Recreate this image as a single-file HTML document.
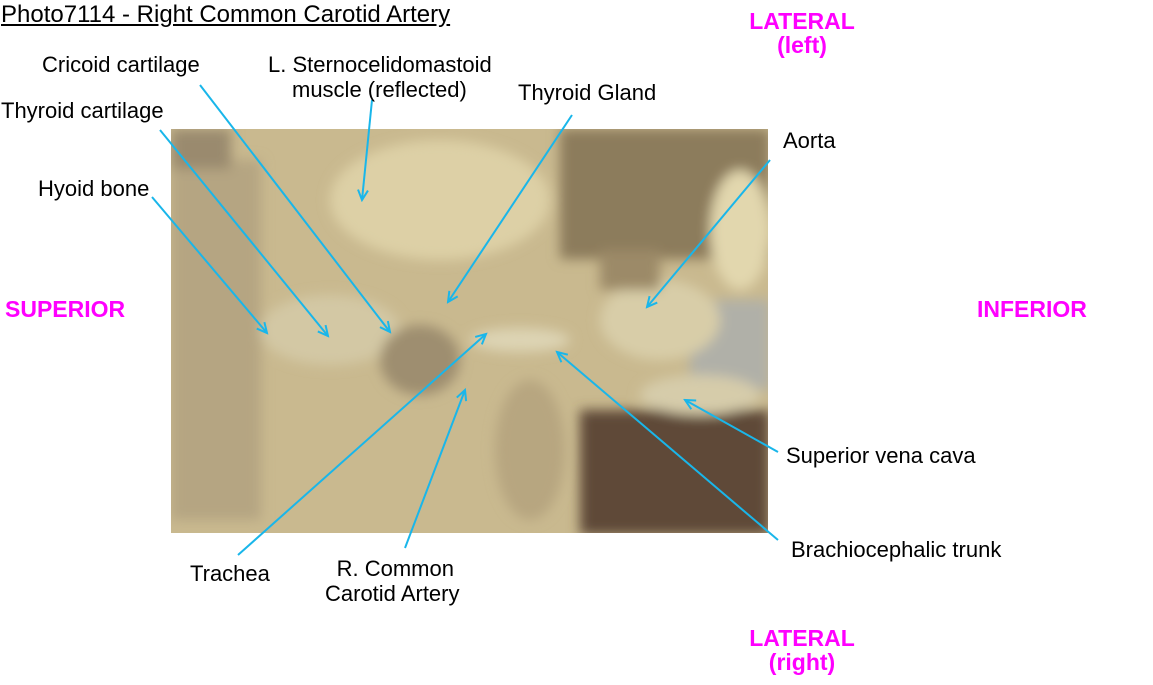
<!DOCTYPE html>
<html><head><meta charset="utf-8"><style>
body{margin:0;width:1153px;height:685px;background:#fff;position:relative;overflow:hidden;font-family:"Liberation Sans",Arial,sans-serif;}
.t{position:absolute;font-size:22px;color:#000;white-space:nowrap;line-height:25px}
.m{position:absolute;font-size:23px;color:#f0f;font-weight:bold;text-align:center;line-height:24px;white-space:nowrap}
</style></head><body>
<svg width="1153" height="685" style="position:absolute;left:0;top:0">
<defs>
<marker id="a" markerWidth="14" markerHeight="14" refX="12" refY="7" orient="auto" markerUnits="userSpaceOnUse">
<polyline points="2,2 12,7 2,12" fill="none" stroke="#19b6ea" stroke-width="2"/></marker>
<filter id="b"><feGaussianBlur stdDeviation="6"/></filter>
<clipPath id="c"><rect x="171" y="129" width="597" height="404"/></clipPath>
</defs>
<g clip-path="url(#c)">
<rect x="171" y="129" width="597" height="404" fill="#c9b98f"/>
<g filter="url(#b)">
<rect x="560" y="129" width="210" height="130" fill="#8c7c5c"/>
<rect x="580" y="410" width="190" height="125" fill="#5e4a38"/>
<rect x="171" y="160" width="90" height="360" fill="#b5a582"/>
<rect x="171" y="129" width="60" height="40" fill="#9a8a6e"/>
<rect x="690" y="300" width="80" height="90" fill="#b0b0a8"/>
<ellipse cx="440" cy="200" rx="110" ry="60" fill="#ddd0a6"/>
<ellipse cx="660" cy="320" rx="60" ry="40" fill="#d8cda8"/>
<ellipse cx="740" cy="230" rx="30" ry="60" fill="#e2d7ae"/>
<ellipse cx="330" cy="330" rx="70" ry="35" fill="#d3c8a4"/>
<ellipse cx="420" cy="360" rx="40" ry="35" fill="#9e8e70"/>
<ellipse cx="530" cy="450" rx="35" ry="70" fill="#b7a680"/>
<ellipse cx="700" cy="395" rx="60" ry="20" fill="#d6ccaa"/>
<rect x="600" y="250" width="60" height="40" fill="#9c8a68"/>
<ellipse cx="520" cy="340" rx="50" ry="12" fill="#ddd4b4"/>
</g>
</g>
<g stroke="#19b6ea" stroke-width="2" fill="none" marker-end="url(#a)">
<line x1="200" y1="85" x2="390" y2="332"/>
<line x1="372" y1="100" x2="362" y2="200"/>
<line x1="160" y1="130" x2="328" y2="336"/>
<line x1="152" y1="197" x2="267" y2="333"/>
<line x1="572" y1="115" x2="448" y2="302"/>
<line x1="770" y1="160" x2="647" y2="307"/>
<line x1="778" y1="452" x2="685" y2="400"/>
<line x1="778" y1="540" x2="557" y2="352"/>
<line x1="238" y1="555" x2="486" y2="334"/>
<line x1="405" y1="548" x2="465" y2="390"/>
</g>
</svg>
<div class="t" style="left:1px;top:2px;font-size:24px;text-decoration:underline">Photo7114 - Right Common Carotid Artery</div>
<div class="t" style="left:42px;top:52px">Cricoid cartilage</div>
<div class="t" style="left:268px;top:52px">L. Sternocelidomastoid<br><span style="padding-left:24px">muscle (reflected)</span></div>
<div class="t" style="left:1px;top:98px">Thyroid cartilage</div>
<div class="t" style="left:518px;top:80px">Thyroid Gland</div>
<div class="t" style="left:783px;top:128px">Aorta</div>
<div class="t" style="left:38px;top:176px">Hyoid bone</div>
<div class="t" style="left:786px;top:443px">Superior vena cava</div>
<div class="t" style="left:791px;top:537px">Brachiocephalic trunk</div>
<div class="t" style="left:190px;top:561px">Trachea</div>
<div class="t" style="left:325px;top:556px;text-align:center">&nbsp;R. Common<br>Carotid Artery</div>
<div class="m" style="left:732px;top:9px;width:140px">LATERAL<br>(left)</div>
<div class="m" style="left:5px;top:297px">SUPERIOR</div>
<div class="m" style="left:977px;top:297px">INFERIOR</div>
<div class="m" style="left:732px;top:626px;width:140px">LATERAL<br>(right)</div>
</body></html>
